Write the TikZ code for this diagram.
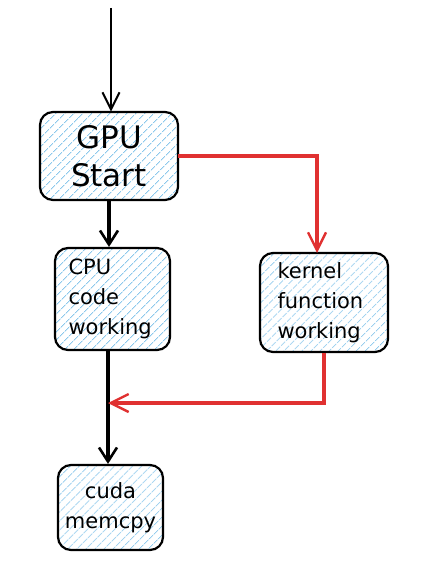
\documentclass[tikz,border=0pt]{standalone}
\usepackage{fontspec}
\setmainfont{DejaVu Sans}
\usetikzlibrary{patterns.meta,arrows.meta}
\definecolor{hatch}{RGB}{140,200,236}
\definecolor{redc}{RGB}{224,49,49}
\tikzset{
  hatchbox/.style={draw=black, line width=2.2pt, rounded corners=13pt,
    pattern={Lines[angle=45,distance=6.5pt,line width=0.9pt]}, pattern color=hatch,
    inner sep=0pt, font=\fontsize{21}{30}\selectfont},
  blk/.style={draw=black, line width=3.6pt, -{Straight Barb[length=14pt,width=18pt,line width=2.6pt]}},
  thin/.style={draw=black, line width=1.6pt, -{Straight Barb[length=17pt,width=17pt,line width=2pt]}},
  redl/.style={draw=redc, line width=3.4pt, -{Straight Barb[length=18pt,width=18pt,line width=2.4pt]}}
}
\begin{document}
\begin{tikzpicture}[x=1pt,y=-1pt]
\useasboundingbox (0,0) rectangle (420,577);
\node[hatchbox, minimum width=138pt, minimum height=88pt, align=center,
  font=\fontsize{31}{38}\selectfont] (gpu) at (109,156) {GPU\\Start};
\node[hatchbox, minimum width=115pt, minimum height=102pt, align=left, text width=88pt] (cpu) at (112.5,299) {CPU\\code\\working};
\node[hatchbox, minimum width=128pt, minimum height=99pt, align=left, text width=93pt] (kern) at (324,302.5) {kernel\\function\\working};
\node[hatchbox, minimum width=105pt, minimum height=85pt, align=center] (cuda) at (110.5,507.5) {cuda\\memcpy};
\coordinate (top) at (111,8);
\coordinate (j) at (108,403);
\coordinate (kt) at (317,253);
\draw[thin] (top) -- (top |- gpu.north);
\draw[blk] (gpu.south) -- (gpu.south |- cpu.north);
\draw[blk] (cpu.south -| j) -- (j) -- (cuda.north -| j);
\draw[redl] (gpu.east) -| (kt);
\draw[redl] (kern.south) -- (kern.south |- j) -- (j);
\end{tikzpicture}
\end{document}
